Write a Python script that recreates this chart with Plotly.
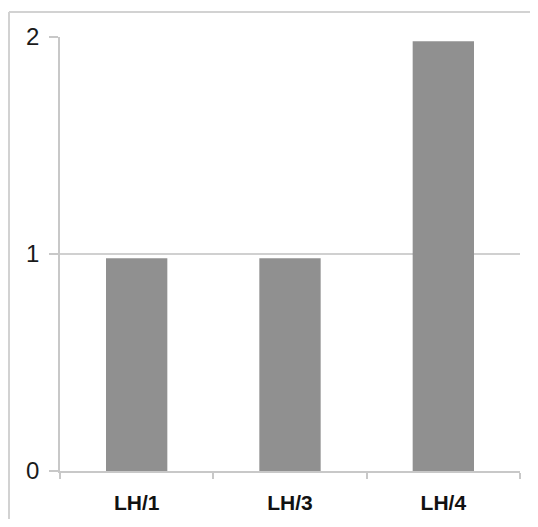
import plotly.graph_objects as go

categories = ["LH/1", "LH/3", "LH/4"]
values = [0.98, 0.98, 1.98]
y_ticks = [0, 1, 2]

# the page body adds an 8px offset; compensate so the plot lands where the reference has it
OFF = 8
W, H = 538 - OFF, 527 - 2 * OFF
L, T = 60 - OFF, 37 - OFF
R = W - (520 - OFF)
B = H - (471 - OFF)
pw, ph = W - L - R, H - T - B

fig = go.Figure(go.Bar(
    x=categories, y=values,
    marker=dict(color="#909090", line=dict(width=0)),
    width=0.4,
))

def px_x(px):
    return (px - OFF - L) / pw

def px_y(py):
    return (H - B - (py - OFF)) / ph

border = "#d2d2d2"
fig.update_layout(
    width=W, height=H,
    margin=dict(l=L, r=R, t=T, b=B, autoexpand=False),
    paper_bgcolor="white", plot_bgcolor="white",
    showlegend=False,
    font=dict(family="Liberation Sans", color="#1a1a1a"),
    xaxis=dict(
        type="category", tickson="boundaries", ticks="outside", ticklen=6,
        tickcolor="#c8c8c8", tickwidth=1.5,
        showline=True, linecolor="#c8c8c8", linewidth=1.5,
        showgrid=False, automargin=False,
        tickfont=dict(family="Liberation Sans", size=21, color="#111111", weight="bold"),
        ticklabelstandoff=12,
    ),
    yaxis=dict(
        range=[0, 2], tickvals=y_ticks, ticktext=[str(v) for v in y_ticks],
        ticks="outside", ticklen=9, tickcolor="#c8c8c8", tickwidth=1.5,
        showline=True, linecolor="#c8c8c8", linewidth=1.5,
        showgrid=True, gridcolor="#d0d0d0", gridwidth=1.5,
        zeroline=False, automargin=False,
        tickfont=dict(family="Liberation Sans", size=24, color="#1a1a1a"),
        ticklabelstandoff=5,
    ),
    shapes=[
        dict(type="line", xref="paper", yref="paper", layer="above",
             x0=px_x(9), x1=px_x(560), y0=px_y(12), y1=px_y(12),
             line=dict(color=border, width=2)),
        dict(type="line", xref="paper", yref="paper", layer="above",
             x0=px_x(9), x1=px_x(9), y0=px_y(12), y1=px_y(560),
             line=dict(color=border, width=2)),
    ],
)

fig.write_html("out.html", config={"displayModeBar": False})
